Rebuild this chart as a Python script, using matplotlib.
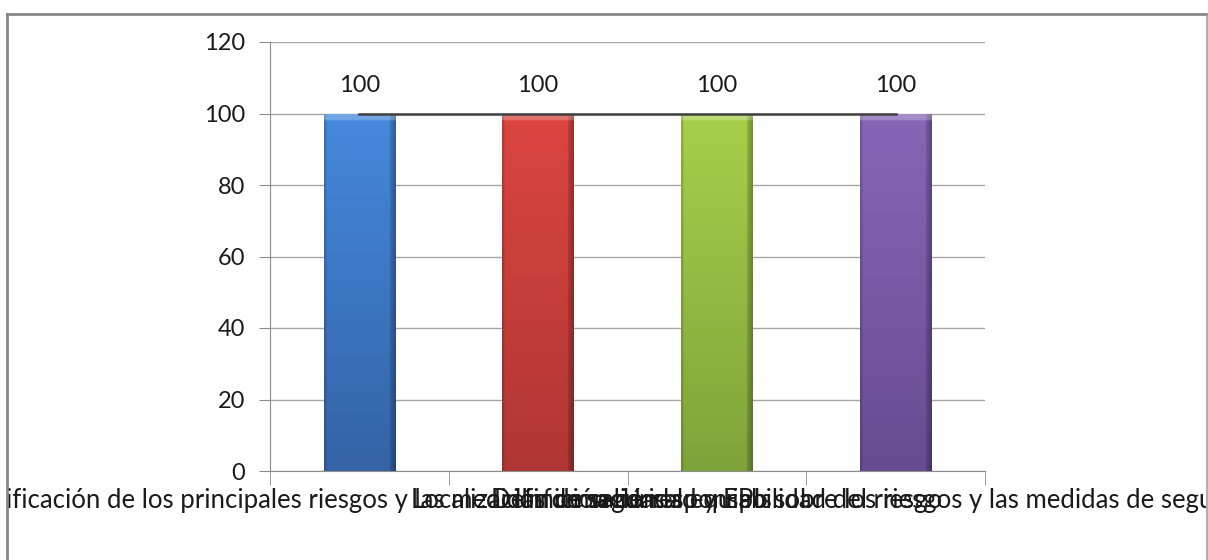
import numpy as np
import matplotlib
matplotlib.use("Agg")
import matplotlib.pyplot as plt
from matplotlib.lines import Line2D
from matplotlib.transforms import Bbox, TransformedBbox
from matplotlib.colors import to_rgb

# datos del grafico
categorias = [
    "Identificación de los principales riesgos y las medidas de seguridad y EPIs",
    "Localización de salidas",
    "Definición de responsabilidad del riesgo",
    "Información al equipo sobre los riesgos y las medidas de seguridad",
]
valores = [100, 100, 100, 100]
color_arriba = ["#4589DC", "#DC4540", "#A6D04A", "#8866B8"]
color_abajo = ["#3463A6", "#AF3733", "#7FA33B", "#674C91"]
y_ticks = [0, 20, 40, 60, 80, 100, 120]

plt.rcParams['font.family'] = ['Lato', 'DejaVu Sans']

fig = plt.figure(figsize=(12.08, 5.6), dpi=100)
ax = fig.add_axes([270 / 1208, 89 / 560, 715 / 1208, 429 / 560])

x = np.arange(len(categorias))
barras = ax.bar(x, valores, width=0.4, color="none", zorder=2)


def degradado(c1, c2, n=200, m=60):
    a = np.array(to_rgb(c1))
    b = np.array(to_rgb(c2))
    t = np.linspace(0, 1, n)[:, None, None]
    img = a * (1 - t) + b * t
    img = np.repeat(img, m, axis=1)
    # sombreado lateral
    fx = np.ones(m)
    fx[:2] = 0.85
    fx[-5:] = np.linspace(0.85, 0.7, 5)
    img = img * fx[None, :, None]
    # bisel superior
    img[:4] = img[:4] * 0.75 + 0.25
    return np.clip(img, 0, 1)


for i, b in enumerate(barras):
    x0, y0 = b.get_x(), b.get_y()
    w, h = b.get_width(), b.get_height()
    im = ax.imshow(degradado(color_arriba[i], color_abajo[i]),
                   extent=[x0, x0 + w, y0, y0 + h],
                   aspect="auto", zorder=2, interpolation="bilinear")
    im.set_clip_path(b)
    ax.text(x0 + w / 2, h + 5, str(valores[i]),
            ha="center", va="bottom", fontsize=17, color="#1a1a1a")

# linea en 100
ax.plot(x, valores, color="#404040", linewidth=1.8, zorder=3)

ax.set_xlim(-0.5, len(categorias) - 0.5)
ax.set_ylim(0, 120)
ax.set_yticks(y_ticks)
ax.tick_params(axis="y", labelsize=17, length=8, color="#8c8c8c", pad=10,
               labelcolor="#1a1a1a")
ax.yaxis.grid(True, color="#a6a6a6", linewidth=1)
ax.set_axisbelow(True)

ax.set_xticks(x)
ax.set_xticklabels(categorias, fontsize=18.5, color="#1a1a1a")
ax.tick_params(axis="x", length=0, pad=12)
ax.set_xticks(np.arange(len(categorias) + 1) - 0.5, minor=True)
ax.tick_params(axis="x", which="minor", length=10, color="#8c8c8c")

for s in ["top", "right"]:
    ax.spines[s].set_visible(False)
ax.spines["left"].set_color("#8c8c8c")
ax.spines["bottom"].set_color("#8c8c8c")

# recorte de etiquetas dentro del marco
caja = TransformedBbox(Bbox.from_extents(8 / 1208, 0, 1206 / 1208, 1), fig.transFigure)
for lab in ax.get_xticklabels():
    lab.set_clip_on(True)
    lab.set_clip_box(caja)

# marco del grafico
fx0, fx1, fy = 7.5 / 1208, 1206.5 / 1208, 1 - 13.5 / 560
fig.add_artist(Line2D([fx0, fx0], [0, fy], color="#878787", linewidth=2))
fig.add_artist(Line2D([fx0, fx1], [fy, fy], color="#878787", linewidth=2))
fig.add_artist(Line2D([fx1, fx1], [0, fy], color="#a0a0a0", linewidth=1.2))

fig.savefig("out.png", dpi=100)
